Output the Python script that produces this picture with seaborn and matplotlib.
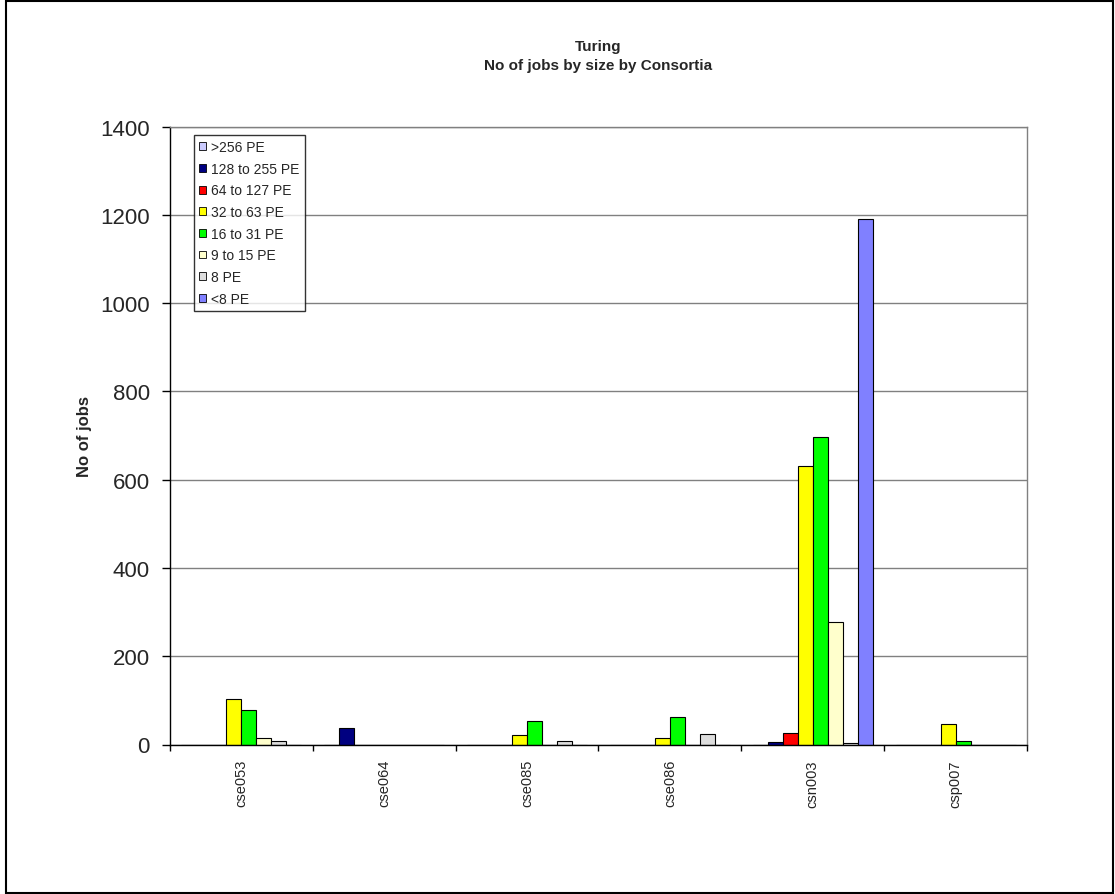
import matplotlib
matplotlib.use("Agg")
import matplotlib.pyplot as plt
import matplotlib.patches as mpatches
import numpy as np
import pandas as pd
import seaborn as sns

# Projects (consortia) and job-size bands
consortia = ["cse053", "cse064", "cse085", "cse086", "csn003", "csp007"]
sizes = [">256 PE", "128 to 255 PE", "64 to 127 PE", "32 to 63 PE",
         "16 to 31 PE", "9 to 15 PE", "8 PE", "<8 PE"]

# Number of jobs per consortium, one list per size band
jobs_gt256 = [0, 0, 0, 0, 0, 0]
jobs_128_255 = [0, 38, 0, 0, 6, 0]
jobs_64_127 = [0, 0, 0, 0, 25, 0]
jobs_32_63 = [102, 0, 22, 15, 632, 46]
jobs_16_31 = [78, 0, 54, 62, 697, 7]
jobs_9_15 = [14, 0, 0, 0, 277, 0]
jobs_8 = [7, 0, 9, 23, 4, 0]
jobs_lt8 = [0, 0, 0, 0, 1190, 0]

y_ticks = [0, 200, 400, 600, 800, 1000, 1200, 1400]

size_colors = ["#CCCCFF", "#000080", "#FF0000", "#FFFF00",
               "#00FF00", "#FFFFCC", "#DDDDDD", "#8080FF"]

series = [jobs_gt256, jobs_128_255, jobs_64_127, jobs_32_63,
          jobs_16_31, jobs_9_15, jobs_8, jobs_lt8]
rows = []
for size, vals in zip(sizes, series):
    for cons, v in zip(consortia, vals):
        rows.append({"Consortium": cons, "Size": size, "Jobs": v})
df = pd.DataFrame(rows)

sns.set_theme(style="white")
plt.rcParams["font.family"] = ["Liberation Sans", "DejaVu Sans"]

W, H = 1115, 895
fig = plt.figure(figsize=(W / 100, H / 100), dpi=100)
ax_l, ax_r, ax_t, ax_b = 170, 1027, 127.7, 745.5
ax = fig.add_axes([ax_l / W, 1 - ax_b / H, (ax_r - ax_l) / W, (ax_b - ax_t) / H])

sns.barplot(data=df, x="Consortium", y="Jobs", hue="Size",
            order=consortia, hue_order=sizes, palette=size_colors,
            width=0.84, edgecolor="black", linewidth=0.8,
            saturation=1, errorbar=None, ax=ax, zorder=3)

ax.set_xlim(-0.5, len(consortia) - 0.5)
ax.set_ylim(0, 1400)
ax.set_yticks(y_ticks)
ax.set_yticklabels([str(t) for t in y_ticks], fontsize=16)
ax.yaxis.grid(True, color="#808080", linewidth=1.0, zorder=0)
ax.set_axisbelow(True)

# Category labels at group centres, tick marks at group boundaries
ax.set_xticks(range(len(consortia)))
ax.set_xticklabels(consortia, rotation=90, fontsize=10.5)
ax.set_xticks(np.arange(-0.5, len(consortia), 1.0), minor=True)
ax.tick_params(axis="x", which="major", length=0, pad=10.5)
ax.tick_params(axis="x", which="minor", length=4, width=1, color="black",
               direction="out", bottom=True)
ax.tick_params(axis="y", which="major", length=5.8, width=1, color="black",
               direction="out", left=True, pad=8.6)

for side in ("top", "right"):
    ax.spines[side].set_color("#808080")
    ax.spines[side].set_linewidth(1.0)
for side in ("left", "bottom"):
    ax.spines[side].set_color("black")
    ax.spines[side].set_linewidth(1.0)
for sp in ax.spines.values():
    sp.set_zorder(5)

ax.set_xlabel("")
ax.set_ylabel("No of jobs", fontsize=12, fontweight="bold", labelpad=6)

leg = ax.legend(loc="upper left", bbox_to_anchor=(0.028, 0.986),
                fontsize=10, frameon=True, fancybox=False, shadow=False,
                handlelength=0.5, handleheight=0.5, handletextpad=0.4,
                labelspacing=0.55, borderpad=0.35, borderaxespad=0.0)
leg.get_frame().set_edgecolor("black")
leg.get_frame().set_linewidth(1.0)
for h in leg.legend_handles:
    h.set_edgecolor("black")
    h.set_linewidth(0.6)

cx = (ax_l + ax_r) / 2 / W
fig.text(cx, 1 - 47 / H, "Turing", ha="center", va="center",
         fontsize=11, fontweight="bold")
fig.text(cx, 1 - 66 / H, "No of jobs by size by Consortia", ha="center",
         va="center", fontsize=11, fontweight="bold")

# Outer chart frame
fig.patches.append(mpatches.Rectangle((5.5 / W, 1.5 / H), (1112.5 - 5.5) / W,
                                      (893.5 - 1.5) / H, transform=fig.transFigure,
                                      fill=False, edgecolor="black", linewidth=1.5))

fig.savefig("out.png", dpi=100, facecolor="white")
